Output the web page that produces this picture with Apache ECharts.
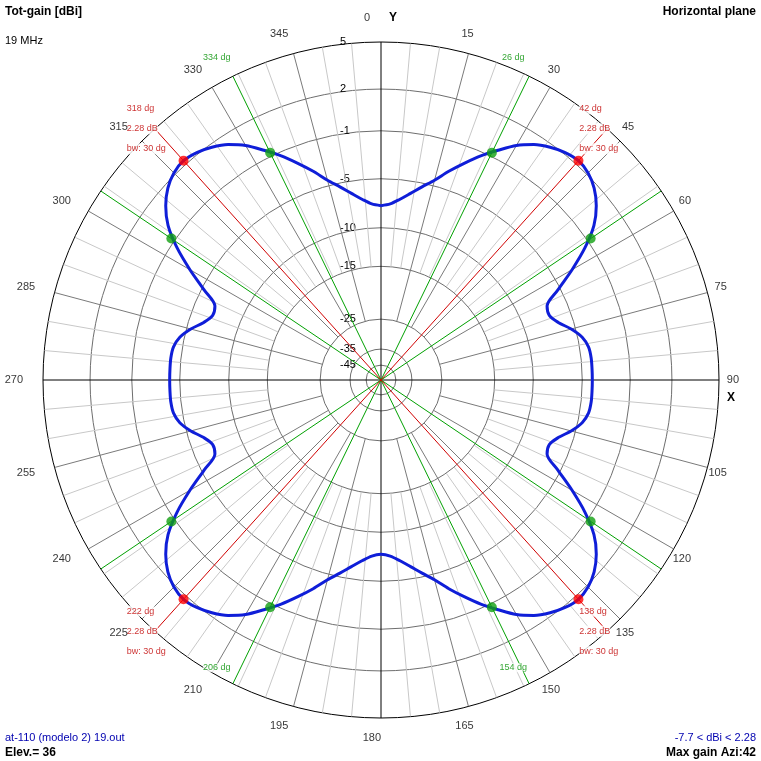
<!DOCTYPE html>
<html>
<head>
<meta charset="utf-8">
<script src="https://cdn.jsdelivr.net/npm/echarts@6/dist/echarts.min.js"></script>
<style>
html,body{margin:0;padding:0;background:#fff;}
#chart{width:761px;height:761px;}
</style>
</head>
<body>
<div id="chart"></div>
<script>
// ---------------- data ----------------
const azimuthDeg = [];
for (let a = 0; a < 360; a += 3) azimuthDeg.push(a);

const gainDbi = [
  // 0 .. 90
  -7.6,-7.4,-6.85,-6.15,-5.35,-4.5,-3.4,-2.35,-1.3,-0.35,0.6,1.3,1.78,2.12,2.28,2.13,
  1.72,1.04,0.05,-1.45,-3.3,-5.25,-6.85,-7.0,-6.4,-5.4,-4.6,-4.2,-4.1,-4.1,-4.1,
  // 93 .. 177
  -4.1,-4.1,-4.2,-4.6,-5.4,-6.4,-7.0,-6.85,-5.25,-3.3,-1.45,0.05,1.04,1.72,2.13,2.28,
  2.12,1.78,1.3,0.6,-0.35,-1.3,-2.35,-3.4,-4.5,-5.35,-6.15,-6.85,-7.4,
  // 180 .. 270
  -7.6,-7.4,-6.85,-6.15,-5.35,-4.5,-3.4,-2.35,-1.3,-0.35,0.6,1.3,1.78,2.12,2.28,2.13,
  1.72,1.04,0.05,-1.45,-3.3,-5.25,-6.85,-7.0,-6.4,-5.4,-4.6,-4.2,-4.1,-4.1,-4.1,
  // 273 .. 357
  -4.1,-4.1,-4.2,-4.6,-5.4,-6.4,-7.0,-6.85,-5.25,-3.3,-1.45,0.05,1.04,1.72,2.13,2.28,
  2.12,1.78,1.3,0.6,-0.35,-1.3,-2.35,-3.4,-4.5,-5.35,-6.15,-6.85,-7.4
];

const radialTicksDbi = [5, 2, -1, -5, -10, -15, -25, -35, -45];
const angleTicksDeg = [0,15,30,45,60,75,90,105,120,135,150,165,180,195,210,225,240,255,270,285,300,315,330,345];
const axisSpokesDeg = [0, 90, 180, 270];
const majorSpokesDeg = [15,30,45,60,75,105,120,135,150,165,195,210,225,240,255,285,300,315,330,345];
const minorSpokesDeg = [5,10,20,25,35,40,50,55,65,70,80,85,95,100,110,115,125,130,140,145,155,160,170,175,
  185,190,200,205,215,220,230,235,245,250,260,265,275,280,290,295,305,310,320,325,335,340,350,355];

const beamAzimuthDeg = [42, 138, 222, 318];
const beamGainDbi = 2.28;
const beamwidthDeg = 30;
const halfPowerAzimuthDeg = [26, 56, 124, 154, 206, 236, 304, 334];
const halfPowerGainDbi = -0.72;
const labeledHalfPowerDeg = [26, 154, 206, 334];

// ---------------- scale (4nec2-like log radial scale, outer ring = 5 dBi) ----------------
const SCALE_TOP_DB = 5;
function dbToR(db) {
  return Math.exp(0.05185 * (db - SCALE_TOP_DB) - 0.000265 * (db * db - SCALE_TOP_DB * SCALE_TOP_DB));
}
const SPOKE_MAJOR_FROM_DB = -25;
const SPOKE_MINOR_FROM_DB = -15;

// ---------------- styles ----------------
const FONT = 'Liberation Sans, Arial, sans-serif';
const ANGLE_LABEL_R = 358 / 338;
const greenLabelOffset = {26: [-16, -19], 334: [-16, -19], 154: [-16, -16], 206: [-16, -16]};
const RED = '#d00000', RED_TXT = '#c00000', GREEN = '#00a000', GREEN_TXT = '#009000';

function spokeData(angles, r0) {
  const d = [];
  angles.forEach(a => { d.push([r0, a], [1, a], ['-', '-']); });
  return d;
}

const curve = azimuthDeg.map((a, i) => [dbToR(gainDbi[i]), a]);
curve.push([dbToR(gainDbi[0]), 360]);

function lineSeries(data, color, width, z) {
  return {
    type: 'line', coordinateSystem: 'polar', data: data, showSymbol: false, symbol: 'none',
    silent: true, animation: false, connectNulls: false, clip: false, z: z,
    lineStyle: {color: color, width: width}
  };
}

const chart = echarts.init(document.getElementById('chart'), null, {renderer: 'canvas', width: 761, height: 761});

const tickR = radialTicksDbi.map(dbToR);
const splitR = radialTicksDbi.filter(v => v !== SCALE_TOP_DB).map(dbToR);

const option = {
  backgroundColor: '#ffffff',
  animation: false,
  polar: {center: [381, 380], radius: 338},
  angleAxis: {
    type: 'value', min: 0, max: 360, interval: 15, startAngle: 90, clockwise: true,
    axisLine: {show: true, lineStyle: {color: '#000', width: 1}},
    axisTick: {show: false}, axisLabel: {show: false}, splitLine: {show: false}
  },
  radiusAxis: {
    type: 'value', min: 0, max: 1,
    axisLine: {show: false},
    axisTick: {show: false, customValues: splitR},
    axisLabel: {
      show: true, customValues: tickR, align: 'left', margin: 41,
      fontSize: 11, fontFamily: FONT, color: '#000', padding: [0, 0, 6, 0],
      formatter: function (v) {
        let best = radialTicksDbi[0], bd = 1e9;
        radialTicksDbi.forEach(t => { const d = Math.abs(dbToR(t) - v); if (d < bd) { bd = d; best = t; } });
        return String(best);
      }
    },
    splitLine: {show: true, lineStyle: {color: '#6e6e6e', width: 1}}
  },
  graphic: [
    {type: 'text', z: 100, style: {x: 5, y: 12, text: 'Tot-gain [dBi]', font: 'bold 12px ' + FONT, fill: '#000', verticalAlign: 'middle'}},
    {type: 'text', z: 100, style: {x: 5, y: 41, text: '19 MHz', font: '11px ' + FONT, fill: '#000', verticalAlign: 'middle'}},
    {type: 'text', z: 100, style: {x: 756, y: 12, text: 'Horizontal plane', font: 'bold 12px ' + FONT, fill: '#000', align: 'right', verticalAlign: 'middle'}},
    {type: 'text', z: 100, style: {x: 393, y: 18, text: 'Y', font: 'bold 12px ' + FONT, fill: '#000', align: 'center', verticalAlign: 'middle'}},
    {type: 'text', z: 100, style: {x: 731, y: 398, text: 'X', font: 'bold 12px ' + FONT, fill: '#000', align: 'center', verticalAlign: 'middle'}},
    {type: 'text', z: 100, style: {x: 5, y: 738, text: 'at-110 (modelo 2) 19.out', font: '11px ' + FONT, fill: '#0000b0', verticalAlign: 'middle'}},
    {type: 'text', z: 100, style: {x: 5, y: 753, text: 'Elev.= 36', font: 'bold 12px ' + FONT, fill: '#000', verticalAlign: 'middle'}},
    {type: 'text', z: 100, style: {x: 756, y: 738, text: '-7.7 < dBi < 2.28', font: '11px ' + FONT, fill: '#0000b0', align: 'right', verticalAlign: 'middle'}},
    {type: 'text', z: 100, style: {x: 756, y: 753, text: 'Max gain Azi:42', font: 'bold 12px ' + FONT, fill: '#000', align: 'right', verticalAlign: 'middle'}}
  ],
  series: [
    lineSeries(spokeData(minorSpokesDeg, dbToR(SPOKE_MINOR_FROM_DB)), '#c8c8c8', 1, 1),
    lineSeries(spokeData(majorSpokesDeg, dbToR(SPOKE_MAJOR_FROM_DB)), '#7a7a7a', 1, 2),
    lineSeries(spokeData(axisSpokesDeg, 0), '#000000', 1, 3),
    lineSeries(spokeData(halfPowerAzimuthDeg, 0), GREEN, 1, 4),
    lineSeries(spokeData(beamAzimuthDeg, 0), RED, 1, 4),
    Object.assign(lineSeries(curve, '#0f1ed8', 3, 6), {smooth: 0.3}),
    {
      type: 'scatter', coordinateSystem: 'polar', silent: true, animation: false, clip: false, z: 8,
      symbolSize: 10, itemStyle: {color: '#10a010'},
      data: halfPowerAzimuthDeg.map(a => [dbToR(halfPowerGainDbi), a])
    },
    {
      type: 'scatter', coordinateSystem: 'polar', silent: true, animation: false, clip: false, z: 8,
      symbolSize: 10, itemStyle: {color: '#ff0000'},
      data: beamAzimuthDeg.map(a => [dbToR(beamGainDbi), a])
    },
    // beam labels
    {
      type: 'scatter', coordinateSystem: 'polar', silent: true, animation: false, clip: false, z: 10,
      symbolSize: 0,
      data: beamAzimuthDeg.map(a => [1, a]),
      label: {
        show: true, position: 'right', distance: -28, align: 'left', verticalAlign: 'middle',
        lineHeight: 20,
        formatter: p => '{a|' + p.value[1] + ' dg}\n{a|' + beamGainDbi.toFixed(2) + ' dB}\n{a|bw: ' + beamwidthDeg + ' dg}',
        rich: {a: {fontSize: 9, fontFamily: FONT, color: RED_TXT, backgroundColor: '#fff', lineHeight: 20, height: 11}}
      }
    },
    // half power labels
    {
      type: 'scatter', coordinateSystem: 'polar', silent: true, animation: false, clip: false, z: 10,
      symbolSize: 0,
      data: labeledHalfPowerDeg.map(a => ({value: [1, a], label: {offset: greenLabelOffset[a]}})),
      label: {
        show: true, position: 'inside', align: 'center', verticalAlign: 'middle',
        fontSize: 9, fontFamily: FONT, color: GREEN_TXT, backgroundColor: '#fff',
        formatter: p => p.value[1] + ' dg'
      }
    },
    // angle labels
    {
      type: 'scatter', coordinateSystem: 'polar', silent: true, animation: false, clip: false, z: 10,
      symbolSize: 0,
      data: angleTicksDeg.map(a => a === 0 ? {value: [ANGLE_LABEL_R, a], label: {offset: [-11, -4]}} : [ANGLE_LABEL_R, a]),
      label: {
        show: true, position: 'left', distance: 0, align: 'right', verticalAlign: 'middle',
        fontSize: 11, fontFamily: FONT, color: '#000',
        formatter: p => String(p.value[1])
      }
    }
  ]
};
chart.setOption(option);
</script>
</body>
</html>
